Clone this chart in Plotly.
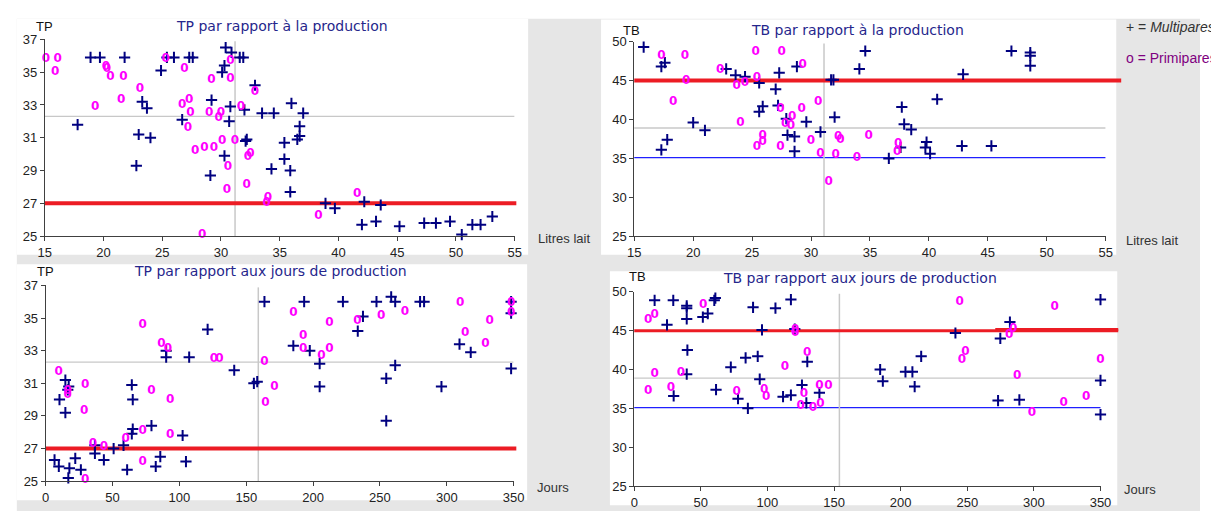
import plotly.graph_objects as go

W, H = 1211, 519

# ---------------- data ----------------
# TP vs litres (top-left)
tpl_multi_x = [18.9,19.7,21.8,25.4,26.0,27.3,27.6,30.4,30.9,31.6,31.9,24.9,30.3,30.1,32.9,17.8,23.3,23.7,26.7,29.2,30.8,30.7,32.0,33.5,34.5,36.0,37.0,36.7,36.7,36.5,23.0,24.0,32.1,32.2,35.4,30.3,35.4,34.3,35.9,22.8,29.1,35.9,38.9,39.7,42.2,43.6,42.0,43.2,45.2,47.3,48.3,49.5,50.5,51.4,52.1,53.1]
tpl_multi_y = [35.9,35.9,35.9,35.9,35.9,35.9,35.9,36.5,36.2,35.9,35.9,35.1,35.4,35.0,34.2,31.8,33.2,32.8,32.1,33.3,32.9,32.0,32.7,32.5,32.5,33.1,32.5,31.7,31.1,30.9,31.2,31.0,30.8,30.9,30.7,29.9,29.7,29.1,29.0,29.3,28.7,27.7,27.0,26.7,27.1,26.9,25.7,25.9,25.6,25.8,25.8,25.9,25.1,25.7,25.7,26.2]
tpl_primi_x = [15.1,16.1,15.9,20.2,20.3,20.6,21.7,23.1,21.5,19.3,25.3,26.9,27.3,26.7,27.4,27.2,29.2,30.8,30.8,29.0,30.0,29.8,31.7,27.8,28.6,29.4,30.1,31.2,32.5,32.3,30.6,30.5,32.2,34.0,33.9,32.9,38.3,41.6,28.4]
tpl_primi_y = [35.8,35.8,35.0,35.3,35.2,34.7,34.7,34.0,33.3,32.9,35.8,35.2,33.3,33.0,32.5,31.6,34.5,35.7,34.6,32.5,32.5,32.2,32.9,30.2,30.4,30.4,30.8,30.8,30.0,29.8,29.2,27.8,28.1,27.3,27.0,33.8,26.2,27.6,25.1]

# TB vs litres (top-right)
tbl_multi_x = [15.8,17.3,17.6,17.8,17.3,20.0,21.0,22.8,23.6,24.4,25.6,25.6,25.9,27.0,27.2,27.3,27.9,28.0,28.6,28.6,28.8,29.6,30.8,31.7,31.9,32.0,34.1,34.6,36.6,37.6,37.7,37.9,38.5,39.7,39.8,40.1,40.7,42.8,42.9,45.3,47.0,48.6,48.6,48.6]
tbl_multi_y = [49.3,46.8,47.3,37.4,36.1,39.6,38.6,46.5,45.7,45.5,44.7,41.0,41.7,43.9,41.8,46.0,40.1,38.0,37.8,35.9,46.8,39.7,38.4,45.1,45.1,40.3,46.5,48.8,35.0,36.4,41.6,39.4,38.7,36.4,37.1,35.6,42.6,36.6,45.8,36.6,48.8,48.6,48.2,46.9]
tbl_primi_x = [17.3,19.3,19.4,18.3,24.0,22.3,23.7,24.4,25.3,25.4,27.5,29.3,25.9,25.9,25.4,27.4,27.4,28.4,27.8,28.3,29.2,30.6,30.0,30.8,32.1,32.3,32.5,33.9,34.9,31.5,37.4,37.3]
tbl_primi_y = [48.2,48.1,45.0,42.3,39.6,46.3,44.3,44.7,48.7,45.3,48.7,47.0,37.9,37.1,36.5,36.5,41.3,40.3,39.4,39.2,41.3,42.2,37.2,35.5,35.4,37.7,37.4,35.1,37.9,32.0,36.8,35.8]

# TP vs jours (bottom-left)
tpj_multi_x = [6.6,9.8,10.3,14.7,17.2,16.5,14.7,17.7,16.9,22.1,26.3,36.8,36.8,43.5,50.8,58.2,60.9,64.4,65.1,65.1,64.4,79.1,82.3,85.7,90.1,90.1,102.4,104.9,107.3,121.1,141.0,155.7,158.2,163.6,185.2,193.3,197.5,204.9,204.9,222.3,233.4,237.3,247.4,254.7,254.7,258.4,261.4,261.4,280.0,283.0,296.0,309.5,317.9,348.1,348.1,348.1]
tpj_multi_y = [26.3,25.9,30.0,31.2,30.8,30.6,29.2,25.8,25.2,26.4,25.7,27.2,26.7,26.3,27.0,27.2,25.7,30.9,30.0,28.2,27.9,28.4,25.9,26.5,33.0,32.6,27.8,26.2,32.6,34.3,31.8,31.0,31.1,36.0,33.3,36.0,33.0,32.2,30.8,36.0,34.2,35.1,36.0,31.3,28.7,36.3,36.0,32.1,36.0,36.0,30.8,33.4,32.9,31.9,35.3,36.0]
tpj_primi_x = [9.8,16.5,16.5,29.5,28.7,29.5,35.4,43.5,59.9,72.5,72.5,72.5,79.1,86.5,91.4,93.1,93.1,125.8,129.9,163.6,171.0,164.3,185.2,192.6,192.6,206.3,212.2,212.2,233.1,251.0,268.7,310.0,313.7,332.1,328.9,348.1,348.1]
tpj_primi_y = [31.7,30.5,30.3,30.9,29.3,25.1,27.3,27.1,27.6,28.1,26.2,34.6,30.5,33.4,33.1,30.0,27.8,32.5,32.5,32.3,30.8,29.8,35.3,33.9,33.1,32.7,34.7,33.1,34.8,35.1,35.4,35.9,34.1,34.8,33.4,35.9,35.3]

# TB vs jours (bottom-right)
tbj_multi_x = [15.3,29.3,39.4,39.4,39.4,24.6,39.9,39.4,29.6,51.5,55.2,60.1,60.9,61.4,72.5,77.9,83.6,85.3,89.2,92.7,94.2,95.9,106.0,111.7,117.6,117.6,120.5,125.9,129.2,129.9,139.0,184.6,186.6,203.6,208.8,210.5,215.4,241.1,273.1,274.8,282.0,289.1,350.0,350.0,350.0]
tbj_multi_y = [48.9,48.9,48.2,47.9,46.5,45.75,42.5,39.4,36.6,46.75,47.2,48.9,49.2,37.4,40.3,36.25,41.5,35.0,48.0,41.7,38.75,45.1,47.9,36.5,49.0,36.7,45.2,38.0,35.7,41.0,37.0,40.0,38.5,39.7,39.7,37.8,41.7,44.7,36.0,44.0,46.1,36.1,49.0,38.6,34.2]
tbj_primi_x = [10.4,15.3,15.3,10.4,27.6,35.0,51.8,76.9,97.6,99.1,113.1,120.8,120.8,129.9,127.4,125.0,134.1,139.8,139.0,145.7,244.3,248.7,246.0,284.4,281.5,287.4,298.5,315.7,322.4,339.2,350.0]
tbj_primi_y = [46.4,47.0,39.4,37.2,37.6,39.6,48.3,37.1,37.4,36.5,40.3,45.1,44.7,42.1,36.8,35.3,35.1,35.5,37.9,37.9,48.7,42.2,41.25,45.2,44.4,39.2,34.4,48.1,35.75,36.5,41.25]

# reference levels
tp_seuil = 27.0
tp_moyen = 32.3
tb_seuil = 45.0
tb_seuil_fin = 45.15
tb_moyen = 38.9
tb_bas = 35.1
litres_moyen_tp = 31.2
litres_moyen_tb = 31.1
jours_moyen_tp = 159
jours_moyen_tb = 154
jours_seuil_fin = 271

titles = ["TP par rapport à la production", "TB par rapport à la production",
          "TP par rapport aux jours de production", "TB par rapport aux jours de production"]
y_labels = ["TP", "TB", "TP", "TB"]
x_labels = ["Litres lait", "Litres lait", "Jours", "Jours"]
legend_labels = ["+ = <i>Multipares</i>", "o = Primipares"]

# ---------------- layout helpers ----------------
def fx(p):
    return p / W

def fy(p):
    return 1 - p / H

NAVY = "#000080"
MAGENTA = "#ff00ff"
RED = "#ec1c24"
GRAY = "#c8c8c8"
BLUE = "#2020ff"

# plot-area pixel boxes: (left, right, top, bottom)
boxes = [
    (38.3, 515.3, 33.3, 236.0),
    (636.7, 1115.3, 35.7, 236.0),
    (39.3, 514.3, 286.7, 488.3),
    (636.7, 1110.0, 293.3, 493.3),
]
xranges = [[15, 55], [15, 55], [0, 350], [0, 350]]
yranges = [[25, 37], [25, 50], [25, 37], [25, 50]]
xdticks = [5, 5, 50, 50]
ydticks = [2, 5, 2, 5]

fig = go.Figure()

datasets = [
    (tpl_multi_x, tpl_multi_y, tpl_primi_x, tpl_primi_y),
    (tbl_multi_x, tbl_multi_y, tbl_primi_x, tbl_primi_y),
    (tpj_multi_x, tpj_multi_y, tpj_primi_x, tpj_primi_y),
    (tbj_multi_x, tbj_multi_y, tbj_primi_x, tbj_primi_y),
]

for i, (mx, my, px_, py_) in enumerate(datasets):
    sfx = "" if i == 0 else str(i + 1)
    fig.add_trace(go.Scatter(
        x=mx, y=my, mode="markers", xaxis="x" + sfx, yaxis="y" + sfx,
        marker=dict(symbol="cross-thin", size=8, line=dict(width=2, color=NAVY), color=NAVY),
        cliponaxis=False, showlegend=False, hoverinfo="x+y"))
    fig.add_trace(go.Scatter(
        x=px_, y=py_, mode="text", text=["<b>0</b>"] * len(px_), xaxis="x" + sfx, yaxis="y" + sfx,
        textposition="middle center",
        textfont=dict(family="DejaVu Sans", size=12, color=MAGENTA, weight="bold"),
        cliponaxis=False, showlegend=False, hoverinfo="x+y"))

axis_common = dict(
    showgrid=False, zeroline=False, showline=True, linecolor="#404040", linewidth=1,
    ticks="outside", ticklen=4, tickcolor="#404040",
    tickfont=dict(family="Liberation Sans", size=13, color="#222222"),
)

layout = dict(
    width=W, height=H, margin=dict(l=0, r=0, t=0, b=0),
    paper_bgcolor="white", plot_bgcolor="rgba(0,0,0,0)", showlegend=False,
)
for i, (l, r, t, b) in enumerate(boxes):
    sfx = "" if i == 0 else str(i + 1)
    layout["xaxis" + sfx] = dict(axis_common, domain=[fx(l), fx(r)], range=xranges[i],
                                 dtick=xdticks[i], tick0=xranges[i][0], anchor="y" + sfx, fixedrange=True)
    layout["yaxis" + sfx] = dict(axis_common, domain=[fy(b), fy(t)], range=yranges[i],
                                 dtick=ydticks[i], tick0=yranges[i][0], anchor="x" + sfx, fixedrange=True)
fig.update_layout(**layout)

shapes = []
# background gray and white panels
shapes.append(dict(type="rect", xref="paper", yref="paper", x0=fx(10), x1=1, y0=0, y1=fy(12),
                   fillcolor="#e6e6e6", line_width=0, layer="below"))
panels = [(10, 529, 12, 255), (603, 1126, 13, 255), (10, 528, 265, 508), (612, 1127, 272, 513)]
for (l, r, t, b) in panels:
    shapes.append(dict(type="rect", xref="paper", yref="paper", x0=fx(l), x1=fx(r), y0=fy(b), y1=fy(t),
                       fillcolor="white", line_width=0, layer="below"))

def hline(i, yval, x1px, color, width, x0px=None):
    sfx = "" if i == 0 else str(i + 1)
    l = boxes[i][0] if x0px is None else x0px
    return dict(type="line", xref="paper", yref="y" + sfx, x0=fx(l), x1=fx(x1px), y0=yval, y1=yval,
                line=dict(color=color, width=width), layer="below")

def vline(i, xval):
    sfx = "" if i == 0 else str(i + 1)
    return dict(type="line", xref="x" + sfx, yref="y" + sfx + " domain", x0=xval, x1=xval, y0=0, y1=0.99,
                line=dict(color=GRAY, width=1.5), layer="below")

# top-left
shapes += [hline(0, tp_moyen, 515, GRAY, 1.2), vline(0, litres_moyen_tp), hline(0, tp_seuil, 517, RED, 4)]
# top-right
shapes += [hline(1, tb_moyen, 1115, GRAY, 1.5), hline(1, tb_bas, 1115, BLUE, 1.2),
           vline(1, litres_moyen_tb), hline(1, tb_seuil, 1131, RED, 4)]
# bottom-left
shapes += [hline(2, tp_moyen, 514, GRAY, 1.2), vline(2, jours_moyen_tp), hline(2, tp_seuil, 517, RED, 4)]
# bottom-right
x_fin = boxes[3][0] + (boxes[3][1] - boxes[3][0]) * jours_seuil_fin / 350
shapes += [hline(3, tb_moyen, 1110, GRAY, 1.2), hline(3, tb_bas, 1110, BLUE, 1.2),
           vline(3, jours_moyen_tb), hline(3, tb_seuil, 1128, RED, 3),
           hline(3, tb_seuil_fin, 1128, RED, 3, x0px=x_fin)]
fig.update_layout(shapes=shapes)

ann = []
title_pos = [(279, 20), (863, 24), (267, 272), (866, 279)]
for (x, y), t in zip(title_pos, titles):
    ann.append(dict(x=fx(x), y=fy(y), xref="paper", yref="paper", text=t, showarrow=False,
                    xanchor="center", yanchor="middle",
                    font=dict(family="DejaVu Sans", size=14, color="#26268c")))
ylab_pos = [(38, 20), (634, 24), (39, 272), (640, 278)]
for (x, y), t in zip(ylab_pos, y_labels):
    ann.append(dict(x=fx(x), y=fy(y), xref="paper", yref="paper", text=t, showarrow=False,
                    xanchor="center", yanchor="middle",
                    font=dict(family="Liberation Sans", size=13, color="#111111")))
xlab_pos = [(537, 238), (1134, 240), (536, 495), (1132, 497)]
for (x, y), t in zip(xlab_pos, x_labels):
    ann.append(dict(x=fx(x), y=fy(y), xref="paper", yref="paper", text=t, showarrow=False,
                    xanchor="left", yanchor="middle",
                    font=dict(family="Liberation Sans", size=13, color="#333333")))
ann.append(dict(x=fx(1134), y=fy(21), xref="paper", yref="paper", text=legend_labels[0], showarrow=False,
                xanchor="left", yanchor="middle",
                font=dict(family="Liberation Sans Narrow, Liberation Sans", size=14, color="#333333")))
ann.append(dict(x=fx(1134), y=fy(53), xref="paper", yref="paper", text=legend_labels[1], showarrow=False,
                xanchor="left", yanchor="middle",
                font=dict(family="Liberation Sans Narrow, Liberation Sans", size=14, color="#800080")))
fig.update_layout(annotations=ann)

fig.write_html("out.html")
